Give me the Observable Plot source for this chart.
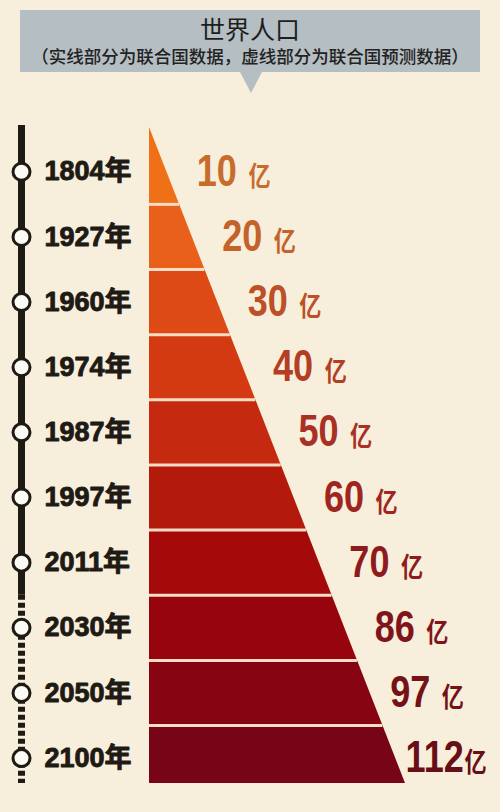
<!DOCTYPE html>
<html>
<head>
<meta charset="utf-8">
<script src="https://cdn.jsdelivr.net/npm/d3@7"></script>
<script src="https://cdn.jsdelivr.net/npm/@observablehq/plot@0.6"></script>
<style>
  html, body { margin: 0; padding: 0; background: #f7efdc; }
  #header { position: relative; width: 500px; height: 110px; }
  #box { position: absolute; left: 20px; top: 10px; width: 460px; height: 62px; background: #b5bec2; }
  #pointer { position: absolute; left: 240px; top: 72px; width: 0; height: 0;
    border-left: 11px solid transparent; border-right: 11px solid transparent; border-top: 21px solid #b5bec2; }
  #title { position: absolute; left: 0; width: 500px; top: 16px; text-align: center;
    font: 25px/25px "Noto Sans CJK SC", sans-serif; color: #1e1e1e; white-space: nowrap; }
  #subtitle { position: absolute; left: 0; width: 500px; top: 47px; text-align: center;
    font: 500 17.5px/17.5px "Noto Sans CJK SC", sans-serif; color: #222; white-space: nowrap; }
  #chart svg { display: block; }
</style>
</head>
<body>
<div id="header">
  <div id="box"></div>
  <div id="pointer"></div>
  <div id="title"></div>
  <div id="subtitle"></div>
</div>
<div id="chart"></div>
<script>
// ---- data ----
const years = [1804, 1927, 1960, 1974, 1987, 1997, 2011, 2030, 2050, 2100];
const population = [10, 20, 30, 40, 50, 60, 70, 86, 97, 112]; // 亿
const projected = [false, false, false, false, false, false, false, true, true, true];
const unit = "亿";
const yearSuffix = "年";
const titleText = "世界人口";
const subtitleText = "（实线部分为联合国数据，虚线部分为联合国预测数据）";

// ---- styles ----
const bandColors = ["#f07018", "#e8601a", "#dd4a16", "#d33a12", "#c52a10",
                    "#b41a0c", "#a40a0a", "#96040e", "#870412", "#780418"];
const labelColors = ["#c86c2c", "#c4622a", "#bc5026", "#b33e24", "#a93024",
                     "#a02420", "#8f1a1c", "#80141a", "#741218", "#680e16"];

document.getElementById("title").textContent = titleText;
document.getElementById("subtitle").textContent = subtitleText;

const uTop = -0.18, uBottom = 9.89;           // apex and base of the wedge (band units)
const w = u => (u - uTop) / (uBottom - uTop);  // wedge width fraction at band position u
const n = years.length;

const bandPts = years.flatMap((yr, i) => {
  const t = i === 0 ? uTop : i;
  const b = i === n - 1 ? uBottom : i + 1;
  return [{year: yr, i, y: t, x2: w(t)}, {year: yr, i, y: b, x2: w(b)}];
});
const separators = d3.range(1, n);
const firstProj = projected.indexOf(true);
const solidSeg = [{y1: -0.21, y2: firstProj}];
const dashSeg = [{y1: firstProj, y2: uBottom}];

const tlX = -0.5;     // timeline position (x units, left of wedge)
const yearX = -0.41;  // year label start
const pxPerX = 256;
const labelOff = i => Math.min(30, 10 + (n - 1 - i) * 10) / pxPerX;

const chart = Plot.plot({
  width: 500,
  height: 702,
  marginLeft: 0, marginRight: 0, marginTop: 0, marginBottom: 0,
  style: {background: "transparent", overflow: "visible"},
  x: {domain: [0, 1], range: [149, 405], axis: null},
  y: {domain: [uTop, uBottom], range: [17, 673], axis: null},
  marks: [
    Plot.areaX(bandPts, {y: "y", x1: 0, x2: "x2", z: "year", fill: d => bandColors[d.i]}),
    Plot.ruleY(separators, {y: d => d, x1: 0, x2: d => w(d), stroke: "#f8dcc4", strokeWidth: 3}),
    Plot.ruleX(solidSeg, {x: tlX, y1: "y1", y2: "y2", stroke: "#1e1a14", strokeWidth: 7}),
    Plot.ruleX(dashSeg, {x: tlX, y1: "y1", y2: "y2", stroke: "#1e1a14", strokeWidth: 7, strokeDasharray: "5,3"}),
    Plot.dot(years, {x: tlX, y: (d, i) => i + 0.5, r: 8.5, fill: "#fbfaf5", stroke: "#1e1a14", strokeWidth: 3}),
    Plot.text(years, {x: yearX, y: (d, i) => i + 0.5, text: d => d + yearSuffix, textAnchor: "start",
      fontSize: 27, fontWeight: "bold", fill: "#1e1a14", stroke: "#1e1a14", strokeWidth: 0.9,
      fontFamily: "'Liberation Sans', 'Noto Sans CJK SC', sans-serif"}),
    Plot.text(population, {x: (d, i) => w(i + 0.5) + labelOff(i), y: (d, i) => i + 0.5,
      text: d => String(d), textAnchor: "start", fill: (d, i) => labelColors[i],
      fontSize: 44, fontWeight: "bold",
      fontFamily: "'Liberation Sans', 'Noto Sans CJK SC', sans-serif"})
  ]
});

// unit suffix in a smaller size, and condensed digits (last text mark = value labels)
const textGroups = d3.select(chart).selectAll('g[aria-label="text"]').nodes();
const valueGroup = textGroups[textGroups.length - 1];
d3.select(valueGroup).selectAll("text").each(function() {
  const el = d3.select(this);
  const v = +this.textContent;
  el.append("tspan")
    .attr("font-size", 27)
    .attr("font-weight", "bold")
    .attr("font-family", "'Noto Sans CJK SC', sans-serif")
    .attr("dx", v >= 100 ? 1 : 14)
    .text(unit);
  let tr = el.attr("transform");
  if (!tr) {
    const x = +(el.attr("x") || 0), y = +(el.attr("y") || 0);
    el.attr("x", null).attr("y", null);
    tr = `translate(${x},${y})`;
  }
  el.attr("transform", tr + " scale(0.82,1)");
});

document.getElementById("chart").appendChild(chart);
</script>
</body>
</html>
